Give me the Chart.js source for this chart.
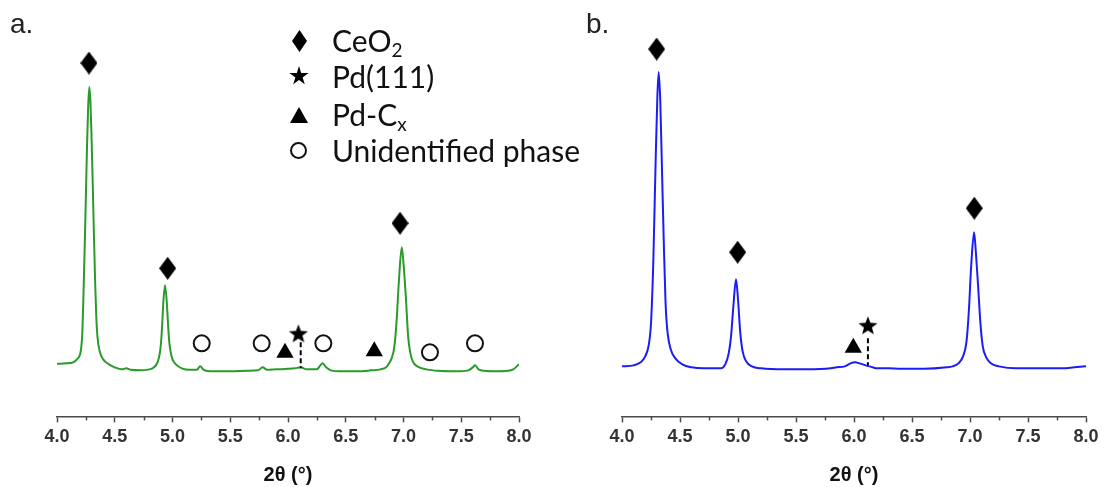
<!DOCTYPE html>
<html>
<head>
<meta charset="utf-8">
<script src="https://cdn.jsdelivr.net/npm/chart.js@4.4.1/dist/chart.umd.min.js"></script>
<style>
  html, body { margin: 0; padding: 0; background: #fff; }
  #wrap { position: relative; width: 1104px; height: 487px; overflow: hidden; font-family: 'Liberation Sans', Arial, sans-serif; }
  .pane { position: absolute; top: 0; height: 487px; }
  .tag { position: absolute; font-size: 28px; color: #222; line-height: 28px; }
  .leg { position: absolute; left: 332px; font-family: Lato, 'Open Sans', sans-serif; font-size: 30px; line-height: 28px; color: #111; white-space: nowrap; }
  .leg sub { font-size: 19px; vertical-align: -5px; line-height: 0; }
  .mk { position: absolute; background: #000; }
  .mk.dia { width: 15px; height: 22px; clip-path: polygon(50% 0, 100% 50%, 50% 100%, 0 50%); }
  .mk.star { width: 20px; height: 20px; clip-path: polygon(50% 0, 61% 35%, 98% 35%, 68% 57%, 79% 91%, 50% 70%, 21% 91%, 32% 57%, 2% 35%, 39% 35%); }
  .mk.tri { width: 18px; height: 16px; clip-path: polygon(50% 0, 100% 100%, 0 100%); }
  .mk.ring { width: 13px; height: 13px; border: 2px solid #111; border-radius: 50%; background: transparent; }
</style>
</head>
<body>
<div id="wrap">
  <div class="pane" style="left:0;width:552px;"><canvas id="chA"></canvas></div>
  <div class="pane" style="left:560px;width:544px;"><canvas id="chB"></canvas></div>
  <div class="tag" style="left:10px;top:10px;">a.</div>
  <div class="tag" style="left:586px;top:10px;">b.</div>

  <div class="mk dia" style="left:292px;top:30px;"></div>
  <div class="leg" style="top:26px;">CeO<sub>2</sub></div>
  <div class="mk star" style="left:289px;top:66px;"></div>
  <div class="leg" style="top:62px;">Pd(111)</div>
  <div class="mk tri" style="left:290px;top:107px;"></div>
  <div class="leg" style="top:100px;">Pd-C<sub>x</sub></div>
  <div class="mk ring" style="left:290px;top:142px;"></div>
  <div class="leg" style="top:136px;">Unidentified phase</div>
</div>
<script>
// panel a (green pattern)
const twoThetaA = [4.00,4.08,4.14,4.18,4.20,4.21,4.22,4.23,4.24,4.25,4.26,4.27,4.28,4.29,4.30,4.31,4.32,4.33,4.34,4.35,4.37,4.40,4.45,4.50,4.56,4.60,4.64,4.72,4.80,4.84,4.87,4.89,4.90,4.91,4.92,4.935,4.95,4.96,4.97,4.98,5.00,5.03,5.08,5.15,5.21,5.24,5.27,5.35,5.50,5.65,5.74,5.78,5.82,5.90,6.00,6.06,6.11,6.16,6.25,6.28,6.30,6.33,6.37,6.45,6.60,6.72,6.80,6.85,6.88,6.90,6.92,6.94,6.96,6.985,7.00,7.02,7.04,7.06,7.08,7.12,7.20,7.30,7.45,7.56,7.60,7.62,7.65,7.70,7.80,7.90,7.95,8.00];
const intensityA = [7.5,8,9,13,17,24,40,80,125,175,225,265,284,268,230,185,135,90,55,35,20,12,7,4,2,3,1.5,1,2,4,9,18,28,45,68,86,70,50,32,22,12,7,3,1.5,1.5,5,1.5,0,0,0.5,1,4,1.5,2,2.5,3,4,2,2,6,8,4,1,0,0,1,2,4,9,14,24,50,90,124,108,75,35,18,10,5,2,0.5,0,1,4,6,2,0.5,0,0.5,2,7];

// panel b (blue pattern)
const twoThetaB = [4.00,4.10,4.16,4.20,4.23,4.25,4.27,4.29,4.305,4.316,4.33,4.345,4.36,4.375,4.39,4.42,4.46,4.52,4.60,4.70,4.85,4.89,4.92,4.94,4.96,4.983,5.00,5.02,5.04,5.07,5.12,5.20,5.40,5.60,5.80,5.85,5.92,5.97,6.01,6.05,6.10,6.15,6.20,6.30,6.40,6.60,6.80,6.85,6.90,6.94,6.97,6.99,7.01,7.035,7.05,7.07,7.09,7.11,7.14,7.18,7.25,7.40,7.60,7.80,7.90,8.00];
const intensityB = [5,6,9,15,26,48,110,210,275,299,270,200,130,70,42,22,13,7,4,3,3,7,18,35,65,92,72,38,20,10,5,3,2,2,3,4,5,8,9,8,6,4.5,3,3,2.5,2.5,4,5,8,15,30,60,105,139,120,85,48,25,14,8,5,3,3,3,4,5];

// phase markers, panel a
const ceo2A = [[4.277, 308], [4.958, 103], [6.970, 148]];
const pdA = [[6.09, 38]];
const pdcA = [[5.974, 18.5], [6.747, 20]];
const unknownA = [[5.253, 28], [5.772, 28], [6.306, 28], [7.229, 19], [7.619, 28]];
const pdLineA = [[6.11, 29], [6.11, 3]];

// phase markers, panel b
const ceo2B = [[4.299, 322], [4.997, 119], [7.037, 163]];
const pdB = [[6.12, 46]];
const pdcB = [[5.994, 23.5]];
const pdLineB = [[6.12, 33], [6.12, 6]];

const xTicks = [4.0, 4.5, 5.0, 5.5, 6.0, 6.5, 7.0, 7.5, 8.0];
const minorTicks = [4.25, 4.75, 5.25, 5.75, 6.25, 6.75, 7.25, 7.75];

const AXIS = '#4a4a4a';
const pts = a => a.map(([x, y]) => ({ x, y }));
const xy = (xs, ys) => xs.map((x, i) => ({ x, y: ys[i] }));

function diamondImg(w, h) {
  const c = document.createElement('canvas'); c.width = w; c.height = h;
  const g = c.getContext('2d');
  g.fillStyle = '#000'; g.beginPath();
  g.moveTo(w / 2, 0); g.lineTo(w, h / 2); g.lineTo(w / 2, h); g.lineTo(0, h / 2); g.closePath(); g.fill();
  return c;
}
function starImg(r) {
  const c = document.createElement('canvas'); c.width = 2 * r; c.height = 2 * r;
  const g = c.getContext('2d');
  g.fillStyle = '#000'; g.beginPath();
  for (let i = 0; i < 10; i++) {
    const rr = i % 2 ? r * 0.42 : r;
    const a = -Math.PI / 2 + i * Math.PI / 5;
    g.lineTo(r + rr * Math.cos(a), r + 1 + rr * Math.sin(a));
  }
  g.closePath(); g.fill();
  return c;
}
const DIA = diamondImg(17, 23);
const STAR = starImg(10);

const minorTickPlugin = {
  id: 'minorTicks',
  afterDraw(chart) {
    const s = chart.scales.x, ctx = chart.ctx;
    ctx.save();
    ctx.strokeStyle = AXIS; ctx.lineWidth = 1.5;
    minorTicks.forEach(v => {
      const px = Math.round(s.getPixelForValue(v)) + 0.5;
      ctx.beginPath(); ctx.moveTo(px, s.top); ctx.lineTo(px, s.top + 4); ctx.stroke();
    });
    ctx.restore();
  }
};

function markerSets(ceo2, pd, pdc, unknown, line) {
  const out = [
    { type: 'scatter', data: pts(ceo2), pointStyle: DIA, pointRadius: 10, clip: false },
    { type: 'scatter', data: pts(pd), pointStyle: STAR, pointRadius: 10, clip: false },
    { type: 'scatter', data: pts(pdc), pointStyle: 'triangle', pointRadius: 10, backgroundColor: '#000', borderColor: '#000', borderWidth: 0, clip: false }
  ];
  if (unknown) out.push({ type: 'scatter', data: pts(unknown), pointStyle: 'circle', pointRadius: 8, backgroundColor: 'rgba(0,0,0,0)', borderColor: '#111', borderWidth: 2, clip: false });
  out.push({ type: 'line', data: pts(line), borderColor: '#000', borderWidth: 2, borderDash: [5, 3], pointRadius: 0, tension: 0 });
  return out;
}

function makeChart(id, curve, color, markers, padRight, padLeft) {
  return new Chart(document.getElementById(id), {
    data: {
      datasets: [
        ...markers,
        { type: 'line', data: curve, borderColor: color, borderWidth: 2, pointRadius: 0, cubicInterpolationMode: 'monotone', fill: false }
      ]
    },
    options: {
      responsive: true,
      maintainAspectRatio: false,
      animation: false,
      events: [],
      layout: { padding: { left: padLeft, right: padRight, top: 16, bottom: 0 } },
      plugins: { legend: { display: false }, tooltip: { enabled: false } },
      scales: {
        x: {
          type: 'linear', min: 4, max: 8,
          afterBuildTicks: s => { s.ticks = xTicks.map(v => ({ value: v })); },
          ticks: {
            callback: v => v.toFixed(1),
            color: '#333', padding: 4, maxRotation: 0,
            font: { family: "'Liberation Sans', Arial, sans-serif", size: 18, weight: 'bold' }
          },
          grid: { drawOnChartArea: false, drawTicks: true, tickLength: 6, tickColor: AXIS, tickWidth: 1.5 },
          border: { display: true, color: AXIS, width: 1.5 },
          title: {
            display: true, text: '2θ (°)', color: '#111',
            font: { family: "'Liberation Sans', Arial, sans-serif", size: 20, weight: 'bold' },
            padding: { top: 11, bottom: 0 }
          }
        },
        y: { display: false, min: -45, max: 355 }
      }
    },
    plugins: [minorTickPlugin]
  });
}

makeChart('chA', xy(twoThetaA, intensityA), '#2a9a2a', markerSets(ceo2A, pdA, pdcA, unknownA, pdLineA), 33, 57);
makeChart('chB', xy(twoThetaB, intensityB), '#1c1cf5', markerSets(ceo2B, pdB, pdcB, null, pdLineB), 18, 62);
</script>
</body>
</html>
